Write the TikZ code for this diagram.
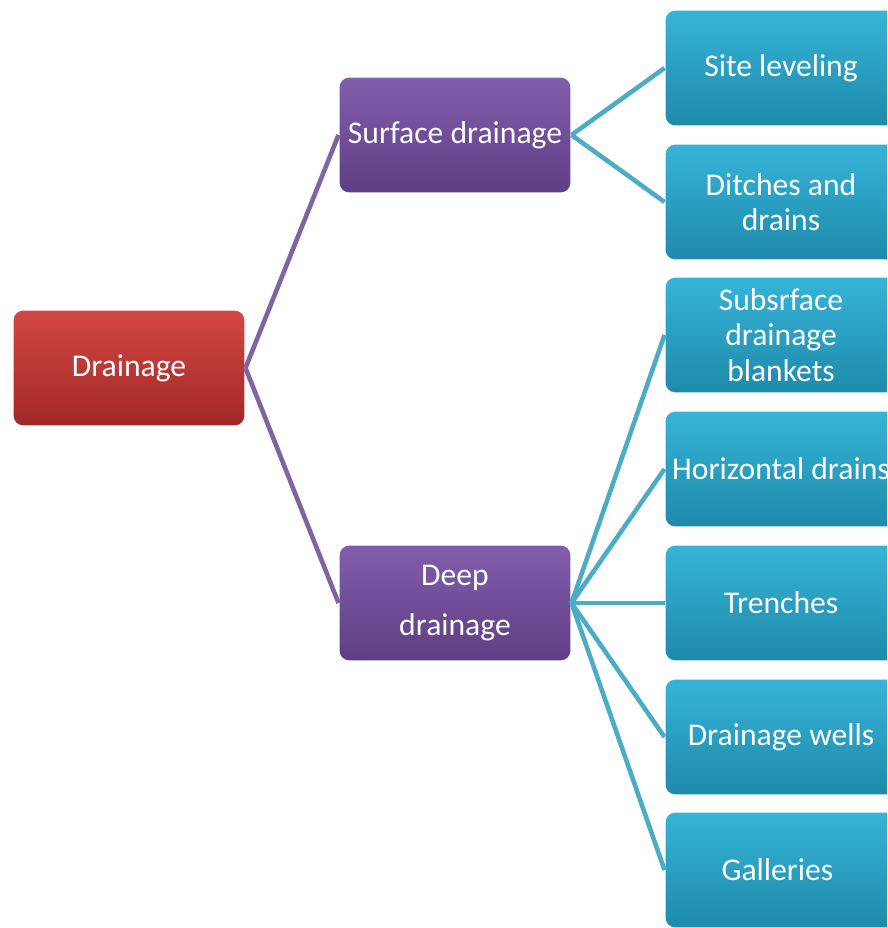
\documentclass[tikz,border=0pt]{standalone}
\usepackage{fontspec}
\setmainfont{Carlito}
\definecolor{drred}{RGB}{192, 80, 77}
\definecolor{drredtop}{RGB}{212, 72, 68}
\definecolor{drredbot}{RGB}{160, 40, 38}
\definecolor{drpurple}{RGB}{128, 100, 162}
\definecolor{drpurpletop}{RGB}{130, 94, 172}
\definecolor{drpurplebot}{RGB}{94, 62, 132}
\definecolor{drcyan}{RGB}{75, 172, 198}
\definecolor{drcyantop}{RGB}{54, 180, 216}
\definecolor{drcyanbot}{RGB}{30, 138, 170}
\usetikzlibrary{arrows.meta, positioning}

\begin{document}
\begin{tikzpicture}[x=0.02cm, y=-0.02cm,
    box/.style={rounded corners=0.2cm, draw=white, line width=0.6pt,
        minimum width=4.64cm, minimum height=2.32cm, inner sep=2pt,
        align=center, text=white, font=\fontsize{18}{20}\selectfont},
    redbox/.style={box, top color=drredtop, bottom color=drredbot},
    purplebox/.style={box, top color=drpurpletop, bottom color=drpurplebot},
    cyanbox/.style={box, top color=drcyantop, bottom color=drcyanbot},
    purpleline/.style={line width=2.6pt, drpurple},
    cyanline/.style={line width=2.6pt, drcyan}]

\useasboundingbox (0,0) rectangle (887,928);
\clip (0,0) rectangle (887,928);

% === Raiz ===
\node[redbox] (drainage) at (129,368) {Drainage};

% === Segundo nivel ===
\node[purplebox] (surface) at (455,135) {Surface drainage};
\node[purplebox] (deep) at (455,603) {Deep\\[0.28cm]drainage};

\draw[purpleline] (drainage.east) -- (surface.west);
\draw[purpleline] (drainage.east) -- (deep.west);

% === Tercer nivel ===
\foreach \y/\name/\label in {
    68/site/Site leveling,
    202/ditch/Ditches and\\drains,
    335/blanket/Subsrface\\drainage\\blankets,
    469/horiz/Horizontal drains,
    603/trench/Trenches,
    737/wells/Drainage wells,
    870/gall/Galleries
} {
    \node[cyanbox] (\name) at (781,\y) {\label};
}

\foreach \name in {site, ditch}
    \draw[cyanline] (surface.east) -- (\name.west);
\foreach \name in {blanket, horiz, trench, wells, gall}
    \draw[cyanline] (deep.east) -- (\name.west);

\end{tikzpicture}
\end{document}
